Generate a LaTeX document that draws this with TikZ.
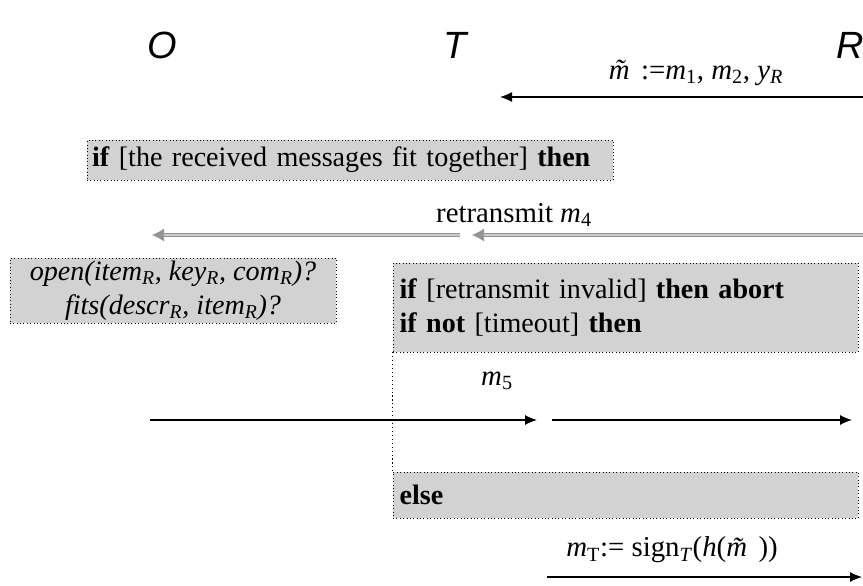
\documentclass[tikz,border=0pt]{standalone}
\usepackage{fontspec}
\setmainfont{Liberation Serif}
\newfontfamily\partyfont{Liberation Sans}
\usepackage{tikz}
\usetikzlibrary{arrows.meta,positioning}
\newcommand{\msg}[1]{\textit{m}\textsubscript{#1}}
\newcommand{\mtil}{\textit{\~{m}}}

\begin{document}
\begin{tikzpicture}[
  party/.style={font=\partyfont\itshape\fontsize{27}{31}\selectfont},
  lbl/.style={font=\fontsize{20.5}{24}\selectfont,inner sep=1pt},
  cond/.style={draw,dotted,fill=gray!35,font=\fontsize{20}{24}\selectfont,
               inner sep=2pt},
  arr/.style={-{Latex[length=3mm,width=2.5mm]},thick},
  retr/.style={-{Latex[length=3mm,width=3.2mm]},draw=gray!85,double=gray!40,
               double distance=2pt}
]
\useasboundingbox (0,0) rectangle (21.575,14.625);
% parties
\node[party] (pO) at (4.05,13.5) {O};
\node[party] (pT) at (11.375,13.5) {T};
\node[party] (pR) at (21.25,13.5) {R};

% first message
\coordinate (m1s) at (21.575,12.2);
\coordinate (m1e) at (12.5,12.2);
\draw[arr] (m1s) -- (m1e);
\node[lbl] (m1lbl) at (17.4,12.8)
  {\mtil:=\msg{1}, \msg{2}, \textit{y}\textsubscript{\textit{R}}};

\node[cond,minimum width=13.15cm,minimum height=1cm,text width=12.9cm,align=left]
  (fit) at (8.75,10.625)
  {\textbf{if} [the received messages fit together] \textbf{then}};

% retransmit
\node[lbl] (retlbl) at (12.85,9.25) {retransmit \msg{4}};
\coordinate (r1s) at (11.5,8.75);
\coordinate (r1e) at (3.8,8.75);
\coordinate (r2s) at (21.575,8.75);
\coordinate (r2e) at (11.8,8.75);
\draw[retr] (r1s) -- (r1e);
\draw[retr] (r2s) -- (r2e);

\node[cond,minimum width=8.15cm,minimum height=1.375cm,align=center]
  (check) at (4.325,7.3625)
  {\textit{open(item\textsubscript{R}, key\textsubscript{R}, com\textsubscript{R})?}\\
   \textit{fits(descr\textsubscript{R}, item\textsubscript{R})?}};
\node[cond,minimum width=11.625cm,minimum height=2.225cm,text width=11.3cm,
      align=left] (timeout) at (15.64,6.94)
  {\textbf{if} [retransmit invalid] \textbf{then abort}\\
   \textbf{if not} [timeout] \textbf{then}};
\node[cond,minimum width=11.625cm,minimum height=1.15cm,text width=11.3cm,
      align=left] (else) at (15.64,2.25) {\textbf{else}};
\draw[dotted,thick] (timeout.south west) -- (else.north west);

% m5
\node[lbl] (m5lbl) at (12.425,5.1) {\msg{5}};
\coordinate (m5as) at (3.75,4.125);
\coordinate (m5ae) at (13.425,4.125);
\coordinate (m5bs) at (13.8,4.125);
\coordinate (m5be) at (21.3,4.125);
\draw[arr] (m5as) -- (m5ae);
\draw[arr] (m5bs) -- (m5be);

% signed answer
\node[lbl] (mTlbl) at (16.8,0.875)
  {\msg{T}:= sign\textsubscript{\textit{T}}(\textit{h}(\mtil))};
\coordinate (mTs) at (13.675,0.2);
\coordinate (mTe) at (21.55,0.2);
\draw[arr] (mTs) -- (mTe);
\end{tikzpicture}
\end{document}
